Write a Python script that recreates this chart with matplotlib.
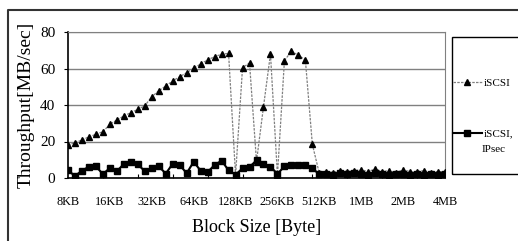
import matplotlib
matplotlib.use('Agg')
import matplotlib.pyplot as plt
import numpy as np
from matplotlib.lines import Line2D
from matplotlib.patches import Rectangle

plt.rcParams['font.family'] = ['Liberation Serif', 'DejaVu Serif']

tick_labels = ['8KB', '16KB', '32KB', '64KB', '128KB', '256KB', '512KB', '1MB', '2MB', '4MB']

iscsi = [18, 19.4, 20.8, 22.6, 23.9, 25.4, 29.4, 31.8, 34, 35.8, 37.6, 39.6,
         44.5, 47.8, 50.4, 53.2, 55.5, 57.7, 60.1, 62.5, 64.7, 66.5, 67.8, 68.3,
         1.5, 60.5, 63, 9, 39, 68, 1.5, 64.3, 69.5, 67.2, 64.7, 18.4,
         2.5, 3.5, 3, 4, 3.5, 4, 4.5, 3.5, 5, 3.5, 4, 3, 4.5, 3.5, 3.5, 4, 3, 3.5, 3.5]

ipsec = [4.2, 1.1, 4, 6.2, 6.4, 2.1, 5.5, 3.7, 7.7, 8.9, 7.5, 3.7,
         5.3, 6.4, 2.4, 7.8, 7.1, 2.6, 8.9, 4, 3.3, 7.1, 9.5, 4.2,
         1.8, 5.3, 6, 9.7, 7.7, 6.2, 2.2, 6.4, 7.1, 7.3, 7.3, 5.3,
         2, 2, 1.5, 2.5, 2, 2.5, 2, 1.5, 2.5, 2, 1.5, 2, 2, 1.5, 2, 1.5, 2, 1.5, 2]

x = np.arange(len(iscsi))

fig = plt.figure(figsize=(5.18, 2.41), dpi=100)
ax = fig.add_axes([68 / 518, 1 - 178 / 241, 377 / 518, 146 / 241])

l1, = ax.plot(x, iscsi, color='#808080', lw=0.9, ls=(0, (2, 1)),
              marker='^', ms=5, mfc='black', mec='black', zorder=3)
l2, = ax.plot(x, ipsec, color='black', lw=1.5,
              marker='s', ms=4.5, mfc='black', mec='black', zorder=4)

ax.set_xlim(0, len(x) - 1)
ax.set_ylim(0, 80)
ax.set_yticks([0, 20, 40, 60, 80])
ax.yaxis.grid(True, color='#808080', lw=1)
ax.set_axisbelow(True)

ax.set_xticks(np.arange(0, len(x), 6))
ax.set_xticklabels(tick_labels, fontsize=8.8)
ax.set_xticks(np.arange(5, len(x), 5), minor=True)
ax.tick_params(axis='x', which='major', length=0, pad=13)
ax.tick_params(axis='x', which='minor', direction='in', length=3, width=0.8)
ax.tick_params(axis='y', labelsize=11, length=3, pad=6)

for s in ['top', 'right']:
    ax.spines[s].set_color('#808080')
ax.spines['left'].set_linewidth(1.2)
ax.spines['bottom'].set_linewidth(1.2)

ax.set_ylabel('Throughput[MB/sec]', fontsize=14, labelpad=4)
ax.set_xlabel('Block Size [Byte]', fontsize=13, labelpad=8)

# outer frame (cut at bottom and right)
fig.add_artist(Line2D([7.5 / 518, 7.5 / 518, 1.0], [0, 1 - 9.5 / 241, 1 - 9.5 / 241],
                      transform=fig.transFigure, color='#333333', lw=1.5))

# legend frame, cut at right edge
fig.add_artist(Rectangle((452 / 518, 1 - 174 / 241), 100 / 518, 137 / 241,
                         transform=fig.transFigure, fill=False, ec='black', lw=1))
leg = fig.legend([l1, l2], ['iSCSI', 'iSCSI,'], loc='upper left',
                 bbox_to_anchor=(453 / 518, 1 - 78 / 241), frameon=False,
                 fontsize=8, handlelength=2.6, labelspacing=3.7,
                 borderaxespad=0, borderpad=0, handletextpad=0.2)
fig.text(482 / 518, 1 - 149 / 241, 'IPsec', fontsize=8, va='center', ha='left')

fig.savefig('out.png', dpi=100)
